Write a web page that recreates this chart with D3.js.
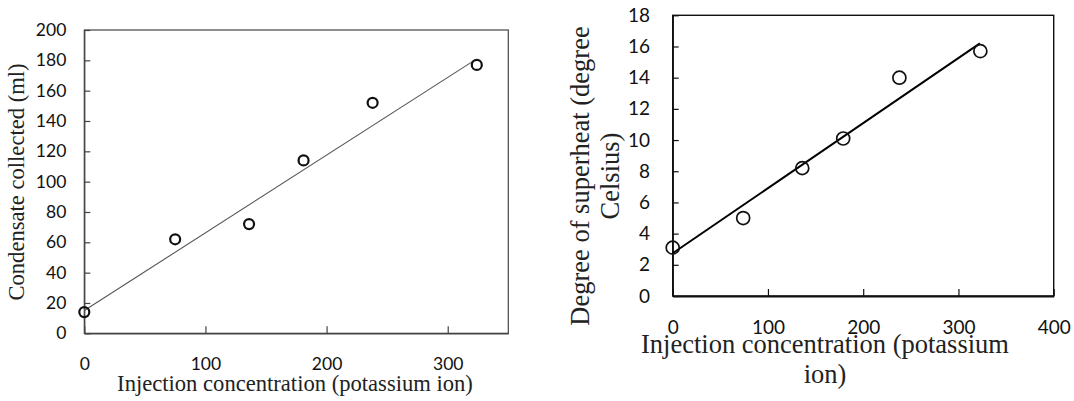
<!DOCTYPE html>
<html>
<head>
<meta charset="UTF-8">
<title>Condensate and superheat vs injection concentration</title>
<script src="https://cdn.jsdelivr.net/npm/d3@7/dist/d3.min.js"></script>
<style>
  body { margin: 0; background: #fff; }
  svg { display: block; }
  .tick text { font-family: Lato, "Open Sans", sans-serif; fill: #111; }
  .title { font-family: "Liberation Serif", "DejaVu Serif", serif; fill: #222; }
</style>
</head>
<body>
<script>
  // left panel: condensate collected (ml)
  const concLeft = [0, 75, 136, 181, 238, 324];
  const condensate = [14, 62, 72, 114, 152, 177];
  // trendline ends
  const trendLeftX = [0, 321];
  const trendLeftY = [15, 179.5];
  const xTicksLeft = [0, 100, 200, 300];
  const yTicksLeft = [0, 20, 40, 60, 80, 100, 120, 140, 160, 180, 200];

  // right panel: degree of superheat (degree Celsius)
  const concRight = [0, 74, 136, 179, 238, 323];
  const superheat = [3.1, 5.0, 8.2, 10.1, 14.0, 15.7];
  const trendRightX = [0, 322.5];
  const trendRightY = [2.74, 16.2];
  const xTicksRight = [0, 100, 200, 300, 400];
  const yTicksRight = [0, 2, 4, 6, 8, 10, 12, 14, 16, 18];

  const W = 1074, H = 401;

  const svg = d3.select("body").append("svg")
    .attr("width", W)
    .attr("height", H);

  function panel(o) {
    const x = d3.scaleLinear().domain(o.xDomain).range([o.left, o.right]);
    const y = d3.scaleLinear().domain(o.yDomain).range([o.bottom, o.top]);
    const g = svg.append("g");

    // frame
    g.append("rect")
      .attr("x", o.left).attr("y", o.top)
      .attr("width", o.right - o.left).attr("height", o.bottom - o.top)
      .attr("fill", "none")
      .attr("stroke", o.frameColor)
      .attr("stroke-width", o.frameWidth);

    const xAxis = g.append("g")
      .attr("transform", "translate(0," + o.bottom + ")")
      .call(d3.axisBottom(x).tickValues(o.xTicks).tickFormat(d3.format("d"))
        .tickSizeInner(-7).tickSizeOuter(0).tickPadding(o.xPad));
    xAxis.select(".domain")
      .attr("stroke", o.frameColor)
      .attr("stroke-width", o.xAxisWidth);
    xAxis.selectAll(".tick line").attr("stroke", o.frameColor).attr("stroke-width", 1.2);
    xAxis.selectAll(".tick text").style("font-size", o.tickFont + "px");

    const yAxis = g.append("g")
      .attr("transform", "translate(" + o.left + ",0)")
      .call(d3.axisLeft(y).tickValues(o.yTicks).tickFormat(d3.format("d"))
        .tickSizeInner(-6).tickSizeOuter(0).tickPadding(o.yPad));
    yAxis.select(".domain")
      .attr("stroke", o.frameColor)
      .attr("stroke-width", o.frameWidth);
    yAxis.selectAll(".tick line").attr("stroke", o.frameColor).attr("stroke-width", 1.2);
    yAxis.selectAll(".tick text").style("font-size", o.tickFont + "px");

    // trendline
    g.append("path")
      .datum(o.tx.map((d, i) => [d, o.ty[i]]))
      .attr("d", d3.line().x(d => x(d[0])).y(d => y(d[1])))
      .attr("fill", "none")
      .attr("stroke", o.lineColor)
      .attr("stroke-width", o.lineWidth);

    // markers
    g.selectAll("circle.pt")
      .data(o.xs)
      .enter()
      .append("circle")
      .attr("class", "pt")
      .attr("cx", d => x(d))
      .attr("cy", (d, i) => y(o.ys[i]))
      .attr("r", o.r)
      .attr("fill", "none")
      .attr("stroke", "#111")
      .attr("stroke-width", o.markerWidth);

    // x title
    o.xTitle.forEach((t, i) => {
      g.append("text")
        .attr("class", "title")
        .attr("x", o.xTitleX)
        .attr("y", o.xTitleY + i * o.xTitleGap)
        .attr("text-anchor", "middle")
        .style("font-size", o.titleFont + "px")
        .text(t);
    });

    // y title
    o.yTitle.forEach((t, i) => {
      g.append("text")
        .attr("class", "title")
        .attr("transform", "translate(" + (o.yTitleX + i * o.yTitleGap) + "," + o.yTitleY + ") rotate(-90)")
        .attr("text-anchor", "middle")
        .style("font-size", o.titleFont + "px")
        .text(t);
    });
  }

  panel({
    xs: concLeft, ys: condensate, tx: trendLeftX, ty: trendLeftY,
    xDomain: [0, 350], yDomain: [0, 200],
    xTicks: xTicksLeft, yTicks: yTicksLeft,
    left: 84.3, right: 508.3, top: 30, bottom: 333.3,
    frameColor: "#444", frameWidth: 1.2, xAxisWidth: 1.6,
    xPad: 24, yPad: 18, tickFont: 17.5,
    lineColor: "#555", lineWidth: 1.1,
    r: 5, markerWidth: 2.2,
    titleFont: 22.6,
    xTitle: ["Injection concentration (potassium ion)"],
    xTitleX: 295, xTitleY: 391, xTitleGap: 0,
    yTitle: ["Condensate collected (ml)"],
    yTitleX: 24, yTitleY: 182, yTitleGap: 0
  });

  panel({
    xs: concRight, ys: superheat, tx: trendRightX, ty: trendRightY,
    xDomain: [0, 400], yDomain: [0, 18],
    xTicks: xTicksRight, yTicks: yTicksRight,
    left: 672.7, right: 1053.7, top: 15.3, bottom: 296,
    frameColor: "#111", frameWidth: 1.4, xAxisWidth: 2,
    xPad: 25, yPad: 22.7, tickFont: 19,
    lineColor: "#000", lineWidth: 2,
    r: 6.5, markerWidth: 1.7,
    titleFont: 26.5,
    xTitle: ["Injection concentration (potassium", "ion)"],
    xTitleX: 825, xTitleY: 353, xTitleGap: 30,
    yTitle: ["Degree of superheat (degree", "Celsius)"],
    yTitleX: 589, yTitleY: 176, yTitleGap: 30
  });
</script>
</body>
</html>
